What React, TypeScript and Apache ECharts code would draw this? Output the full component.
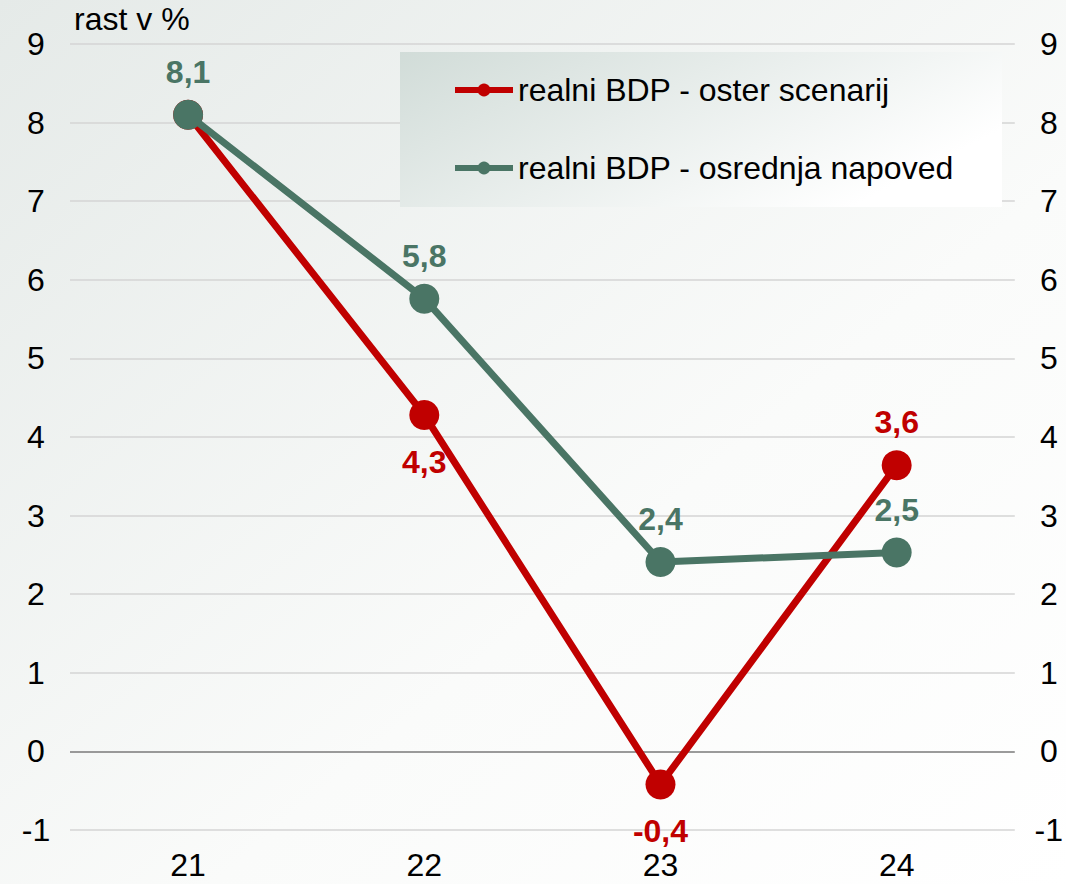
import React, { useEffect, useRef } from "react";
import * as echarts from "echarts";

const categories = ["21", "22", "23", "24"];
const severeValues = [8.1, 4.28, -0.42, 3.64];
const baselineValues = [8.1, 5.76, 2.41, 2.53];
const severeLabelPos = ["none", "bottom", "bottom", "top"];
const baselineLabelPos = ["top", "top", "top", "top"];
const seriesNames = ["realni BDP - oster scenarij", "realni BDP - osrednja napoved"];
const yMin = -1;
const yMax = 9;
const yInterval = 1;
const unitLabel = "rast v %";

const RED = "#C00000";
const GREEN = "#4A7565";
const FONT = "'Liberation Sans', Arial, sans-serif";

const fmt = (v: number) => v.toFixed(1).replace(".", ",");

function buildData(values: number[], positions: string[]) {
  return values.map((v, i) => {
    const pos = positions[i];
    if (pos === "none") return { value: v, label: { show: false } };
    return {
      value: v,
      label: { show: true, position: pos, distance: pos === "top" ? 12 : 16 },
    };
  });
}

export default function App() {
  const ref = useRef<HTMLDivElement>(null);
  useEffect(() => {
    if (!ref.current) return;
    const chart = echarts.init(ref.current, null, { renderer: "svg" });
    const splitColors: string[] = [];
    for (let v = yMin; v <= yMax; v += yInterval) splitColors.push(v === 0 ? "#7A7A7A" : "#D4D4D4");
    const labelStyle = { fontSize: 32, fontWeight: "bold" as const, fontFamily: FONT, formatter: (p: any) => fmt(p.value) };
    chart.setOption({
      animation: false,
      backgroundColor: new echarts.graphic.LinearGradient(0, 0, 1, 1, [
        { offset: 0, color: "#E5EAE8" },
        { offset: 0.6, color: "#FAFBFA" },
        { offset: 1, color: "#FFFFFF" },
      ]),
      textStyle: { fontFamily: FONT },
      title: {
        text: unitLabel,
        left: 74,
        top: 3,
        padding: 0,
        textStyle: { fontSize: 32, fontWeight: "normal", color: "#000", fontFamily: FONT },
      },
      grid: { left: 70, right: 51, top: 44, bottom: 54, containLabel: false },
      graphic: [
        {
          type: "rect",
          left: 400,
          top: 52,
          z: 1,
          shape: { width: 602, height: 155 },
          style: {
            fill: new echarts.graphic.LinearGradient(0, 0, 1, 0.5, [
              { offset: 0, color: "#D1DCD8" },
              { offset: 1, color: "#FFFFFF" },
            ]),
          },
        },
      ],
      legend: {
        data: seriesNames,
        orient: "vertical",
        left: 452,
        top: 74,
        padding: 0,
        itemWidth: 58,
        itemHeight: 16,
        itemGap: 46,
        z: 5,
        lineStyle: { width: 6 },
        textStyle: { fontSize: 32, color: "#000", fontFamily: FONT, lineHeight: 32 },
      },
      xAxis: {
        type: "category",
        data: categories,
        boundaryGap: true,
        axisLine: { show: false },
        axisTick: { show: false },
        axisLabel: { fontSize: 32, color: "#000", margin: 19, fontFamily: FONT },
      },
      yAxis: [
        {
          type: "value",
          min: yMin,
          max: yMax,
          interval: yInterval,
          axisLine: { show: false },
          axisTick: { show: false },
          axisLabel: { fontSize: 32, color: "#000", margin: 34, align: "center", fontFamily: FONT },
          splitLine: { show: true, lineStyle: { color: splitColors, width: 1.6 } },
        },
        {
          type: "value",
          position: "right",
          min: yMin,
          max: yMax,
          interval: yInterval,
          axisLine: { show: false },
          axisTick: { show: false },
          axisLabel: { fontSize: 32, color: "#000", margin: 34, align: "center", fontFamily: FONT },
          splitLine: { show: false },
        },
      ],
      series: [
        {
          name: seriesNames[0],
          type: "line",
          data: buildData(severeValues, severeLabelPos),
          symbol: "circle",
          symbolSize: 30,
          lineStyle: { color: RED, width: 7 },
          itemStyle: { color: RED },
          label: { ...labelStyle, color: RED },
          z: 2,
        },
        {
          name: seriesNames[1],
          type: "line",
          data: buildData(baselineValues, baselineLabelPos),
          symbol: "circle",
          symbolSize: 30,
          lineStyle: { color: GREEN, width: 7 },
          itemStyle: { color: GREEN },
          label: { ...labelStyle, color: GREEN },
          z: 3,
        },
      ],
    });
    return () => chart.dispose();
  }, []);
  return (
    <div
      ref={ref}
      style={{ position: "fixed", left: 0, top: 0, width: 1066, height: 884 }}
    />
  );
}
